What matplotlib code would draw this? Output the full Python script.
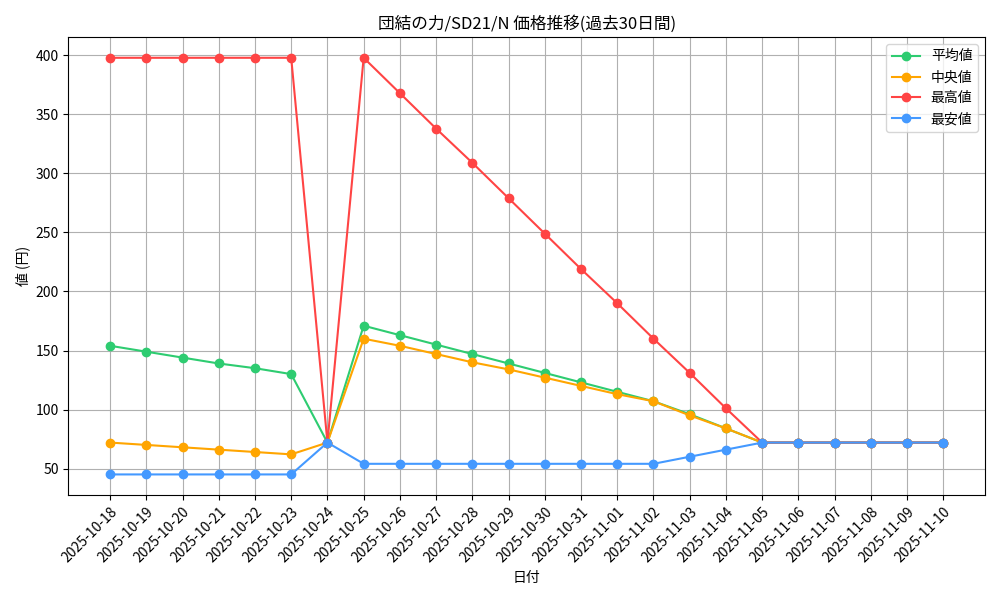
import matplotlib
matplotlib.use("Agg")
import matplotlib.pyplot as plt
import pandas as pd

plt.rcParams['font.family'] = ['Noto Sans CJK JP', 'DejaVu Sans']

dates = [d.strftime('%Y-%m-%d') for d in pd.date_range('2025-10-18', '2025-11-10')]
avg = [154,149,144,139,135,130,72,171,163,155,147,139,131,123,115,107,96,84,72,72,72,72,72,72]
med = [72,70,68,66,64,62,72,160,154,147,140,134,127,120,113,107,95,84,72,72,72,72,72,72]
mx = [398,398,398,398,398,398,72,398,368,338,309,279,249,219,190,160,131,101,72,72,72,72,72,72]
mn = [45,45,45,45,45,45,72,54,54,54,54,54,54,54,54,54,60,66,72,72,72,72,72,72]

fig, ax = plt.subplots(figsize=(10, 6), dpi=100)
ax.plot(dates, avg, marker='o', color='#2ecc71', label='平均値')
ax.plot(dates, med, marker='o', color='#ffa500', label='中央値')
ax.plot(dates, mx, marker='o', color='#ff4444', label='最高値')
ax.plot(dates, mn, marker='o', color='#4499ff', label='最安値')
ax.set_title('団結の力/SD21/N 価格推移(過去30日間)')
ax.set_xlabel('日付')
ax.set_ylabel('値 (円)')
ax.grid(True)
ax.legend(loc='upper right')
plt.setp(ax.get_xticklabels(), rotation=45, ha='right')
ax.tick_params(axis='x', labelrotation=45)
for l in ax.get_xticklabels():
    l.set_ha('right'); l.set_rotation_mode('anchor')
fig.tight_layout()
fig.savefig('out.png')
